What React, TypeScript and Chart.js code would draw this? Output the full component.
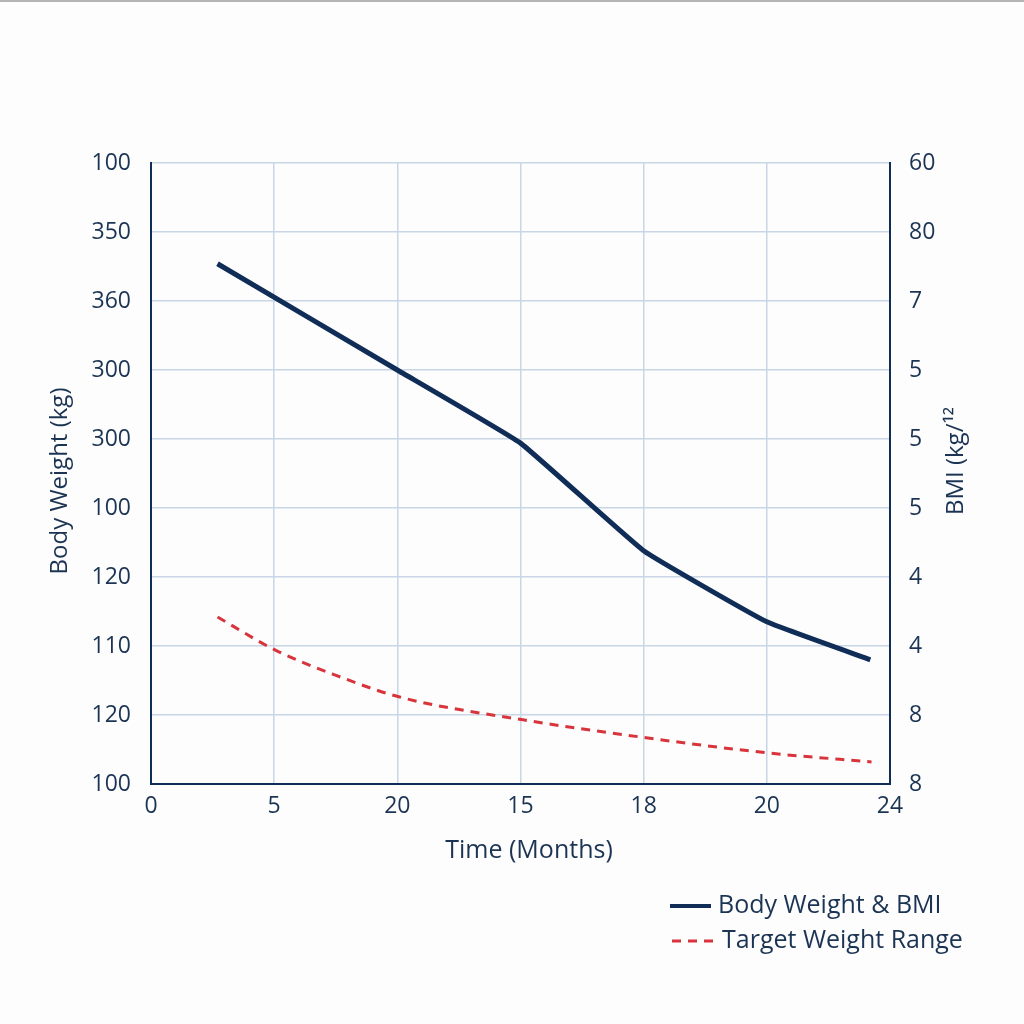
import React, { useEffect, useRef } from "react";
import { Chart, registerables } from "chart.js";

Chart.register(...registerables);

// Tick labels as printed in the reference (positions are equally spaced)
const xTickLabels = ["0", "5", "20", "15", "18", "20", "24"];
const leftTickLabels = ["100", "120", "110", "120", "100", "300", "300", "360", "350", "100"];
const rightTickLabels = ["8", "8", "4", "4", "5", "5", "5", "7", "80", "60"];

// Series (x in tick-slot units, y in grid-slot units)
const bodyX = [0.54, 2.0, 3.0, 4.0, 5.0, 5.84];
const bodyY = [7.54, 6.0, 4.94, 3.38, 2.35, 1.8];
const targetX = [0.54, 1.01, 1.48, 2.02, 3.02, 4.02, 5.01, 5.85];
const targetY = [2.42, 1.94, 1.59, 1.26, 0.93, 0.67, 0.45, 0.32];

const seriesNames = ["Body Weight & BMI", "Target Weight Range"];
const xTitle = "Time (Months)";
const yLeftTitle = "Body Weight (kg)";
const yRightTitle = "BMI (kg/¹²";

const NAVY = "#0f2d57";
const TEXT = "#1c3454";
const RED = "#d8343c";
const GRID = "#c8d6e5";
const FONT = "'Open Sans', 'Noto Sans', sans-serif";

export default function App() {
  const ref = useRef<HTMLCanvasElement | null>(null);

  useEffect(() => {
    document.body.style.margin = "0";
    const canvas = ref.current;
    if (!canvas) return;

    const overlay = {
      id: "overlay",
      beforeDraw(chart: any) {
        const ctx = chart.ctx;
        ctx.save();
        ctx.fillStyle = "#fdfdfd";
        ctx.fillRect(0, 0, chart.width, chart.height);
        ctx.restore();
      },
      afterDraw(chart: any) {
        const ctx = chart.ctx;
        const a = chart.chartArea;
        ctx.save();
        ctx.fillStyle = TEXT;
        ctx.font = `25px ${FONT}`;
        ctx.textAlign = "center";
        ctx.textBaseline = "middle";
        ctx.fillText(xTitle, 529, 851);

        ctx.font = `24px ${FONT}`;
        ctx.save();
        ctx.translate(60, 481);
        ctx.rotate(-Math.PI / 2);
        ctx.fillText(yLeftTitle, 0, 0);
        ctx.restore();

        ctx.save();
        ctx.translate(956, 461);
        ctx.rotate(-Math.PI / 2);
        ctx.fillText(yRightTitle, 0, 0);
        ctx.restore();

        // legend
        ctx.font = `25px ${FONT}`;
        ctx.textAlign = "left";
        ctx.strokeStyle = NAVY;
        ctx.lineWidth = 4;
        ctx.beginPath();
        ctx.moveTo(670, 906);
        ctx.lineTo(711, 906);
        ctx.stroke();
        ctx.fillText(seriesNames[0], 718, 906);

        ctx.strokeStyle = RED;
        ctx.lineWidth = 3;
        ctx.setLineDash([9, 7]);
        ctx.beginPath();
        ctx.moveTo(672, 941);
        ctx.lineTo(718, 941);
        ctx.stroke();
        ctx.setLineDash([]);
        ctx.fillText(seriesNames[1], 722, 941);

        // frame line at top of the picture
        ctx.strokeStyle = "#b5b5b5";
        ctx.lineWidth = 2;
        ctx.beginPath();
        ctx.moveTo(0, 1);
        ctx.lineTo(1024, 1);
        ctx.stroke();
        ctx.restore();
      },
    };

    const tickFont = { family: FONT, size: 23 };

    const chart = new Chart(canvas, {
      type: "line",
      data: {
        datasets: [
          {
            label: seriesNames[0],
            data: bodyX.map((x, i) => ({ x, y: bodyY[i] })),
            borderColor: NAVY,
            borderWidth: 5,
            pointRadius: 0,
            tension: 0.1,
            yAxisID: "y",
          },
          {
            label: seriesNames[1],
            data: targetX.map((x, i) => ({ x, y: targetY[i] })),
            borderColor: RED,
            borderWidth: 3,
            borderDash: [9, 7],
            pointRadius: 0,
            cubicInterpolationMode: "monotone",
            yAxisID: "y",
          },
        ],
      },
      options: {
        responsive: false,
        animation: false,
        devicePixelRatio: 1,
        layout: { padding: { top: 163, bottom: 0, left: 0, right: 0 } },
        plugins: { legend: { display: false }, tooltip: { enabled: false } },
        scales: {
          x: {
            type: "linear",
            min: 0,
            max: 6,
            afterFit: (s: any) => {
              s.height = 240;
            },
            ticks: {
              stepSize: 1,
              padding: 9,
              maxRotation: 0,
              autoSkip: false,
              color: TEXT,
              font: tickFont,
              callback: (v: any) => xTickLabels[Math.round(v)] ?? "",
            },
            grid: { color: GRID, lineWidth: 1.5, drawTicks: false },
            border: { color: NAVY, width: 2 },
          },
          y: {
            position: "left",
            min: 0,
            max: 9,
            afterFit: (s: any) => {
              s.width = 151;
            },
            ticks: {
              stepSize: 1,
              padding: 20,
              autoSkip: false,
              color: TEXT,
              font: tickFont,
              callback: (v: any) => leftTickLabels[Math.round(v)] ?? "",
            },
            grid: { color: GRID, lineWidth: 1.5, drawTicks: false },
            border: { color: NAVY, width: 2 },
          },
          y1: {
            position: "right",
            min: 0,
            max: 9,
            afterFit: (s: any) => {
              s.width = 134;
            },
            ticks: {
              stepSize: 1,
              padding: 19,
              autoSkip: false,
              color: TEXT,
              font: tickFont,
              callback: (v: any) => rightTickLabels[Math.round(v)] ?? "",
            },
            grid: { display: false, drawTicks: false },
            border: { color: NAVY, width: 2 },
          },
        },
      },
      plugins: [overlay],
    } as any);

    return () => chart.destroy();
  }, []);

  return <canvas ref={ref} width={1024} height={1024} style={{ display: "block" }} />;
}
